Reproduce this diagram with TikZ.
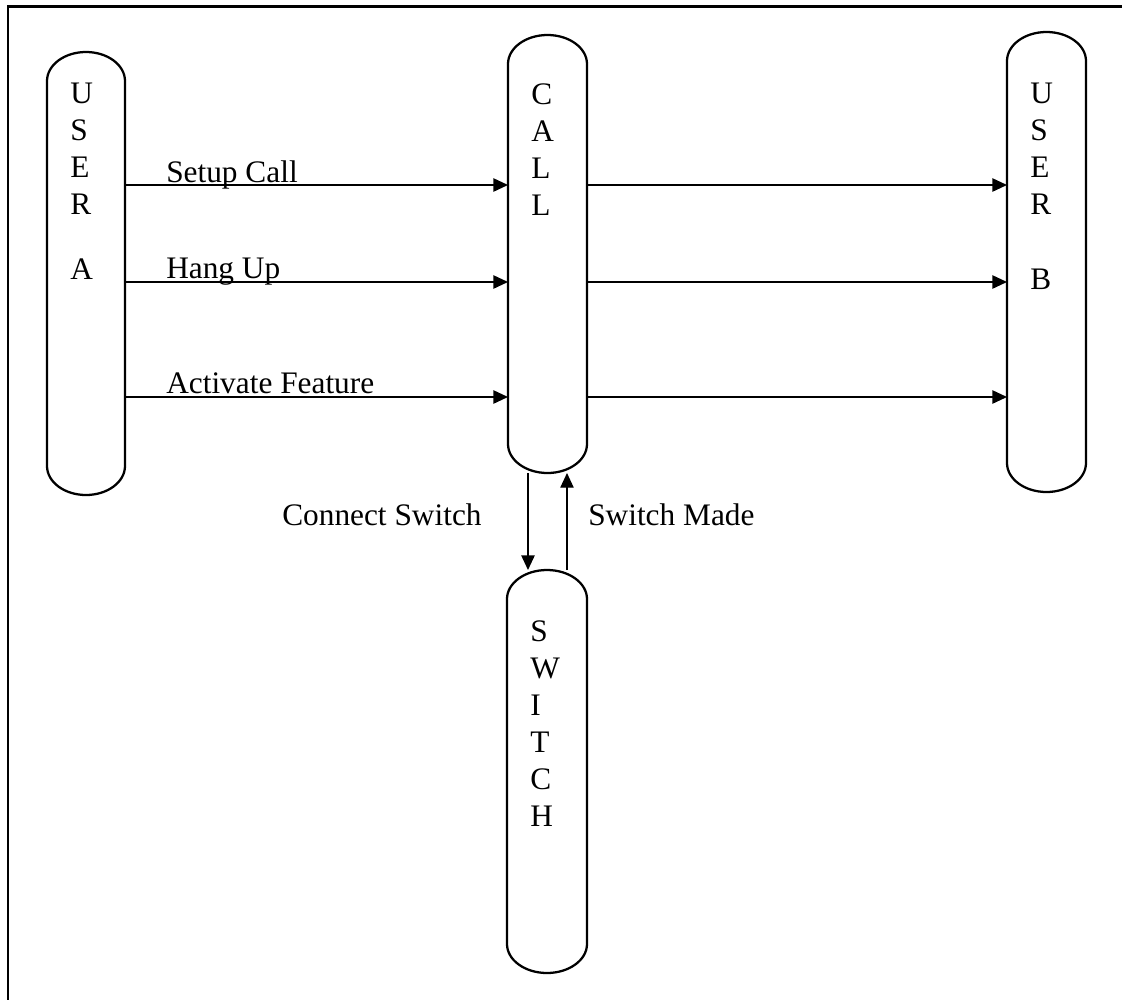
\documentclass[tikz,border=0pt]{standalone}
\usepackage{fontspec}
\setmainfont{Liberation Serif}
\usetikzlibrary{arrows.meta}
\begin{document}
\begin{tikzpicture}[x=0.75pt,y=-0.75pt,
  pill/.style={rectangle, draw=none, inner sep=0pt, outer sep=0pt},
  outl/.style={line width=1.7pt},
  lbl/.style={font=\fontsize{23.5}{27.75}\selectfont, inner sep=0pt},
  vtext/.style={lbl, align=left, anchor=north west},
  arr/.style={line width=1.2pt, -{Triangle[length=11pt,width=10pt]}},
  arrthin/.style={line width=0.9pt, -{Triangle[length=11pt,width=10pt]}},
]
\useasboundingbox (0,0) rectangle (1122,1000);
% frame (top and left edges visible)
\draw[line width=1.8pt] (8,1002) -- (8,6.5) -- (1124,6.5);

% lifelines
\node[pill, minimum width=58.5pt, minimum height=332.25pt] (ua) at (86,273.5) {};
\node[pill, minimum width=59.25pt, minimum height=328.5pt] (call) at (547.5,254) {};
\node[pill, minimum width=59.25pt, minimum height=345pt] (ub) at (1046.5,262) {};
\node[pill, minimum width=60pt, minimum height=302.25pt] (sw) at (547,771.5) {};

\foreach \n/\r in {ua/29.25pt, call/29.625pt, ub/29.625pt, sw/30pt}{
  \draw[outl] ([yshift=-21.75pt]\n.north west) -- ([yshift=21.75pt]\n.south west)
    arc[start angle=180, end angle=360, x radius=\r, y radius=21.75pt]
    -- ([yshift=-21.75pt]\n.north east)
    arc[start angle=0, end angle=180, x radius=\r, y radius=21.75pt] -- cycle;
}

% vertical texts
\node[vtext] (uat) at (70,83) {U\\S\\E\\R\\[21pt]A};
\node[vtext] (callt) at (531,83) {C\\A\\L\\L};
\node[vtext] (ubt) at (1030,83) {U\\S\\E\\R\\[28.5pt]B};
\node[vtext] (swt) at (530,620) {S\\W\\I\\T\\C\\H};

% levels
\coordinate (h1) at (0,185);
\coordinate (h2) at (0,282);
\coordinate (h3) at (0,397);
\coordinate (v1) at (528,0);
\coordinate (v2) at (567,0);

% horizontal messages
\foreach \h in {h1,h2,h3}{
  \draw[arr] (ua.east |- \h) -- (call.west |- \h);
  \draw[arr] (call.east |- \h) -- (ub.west |- \h);
}

% vertical messages
\draw[arr] (call.south -| v1) -- (sw.north -| v1);
\draw[arrthin] (sw.north -| v2) -- (call.south -| v2);

% labels
\node[lbl, anchor=base west] (l1) at (166,182) {Setup Call};
\node[lbl, anchor=base west] (l2) at (166,278) {Hang Up};
\node[lbl, anchor=base west] (l3) at (166,393) {Activate Feature};
\node[lbl, anchor=base west] (l4) at (282,525) {Connect Switch};
\node[lbl, anchor=base west] (l5) at (588,525) {Switch Made};
\end{tikzpicture}
\end{document}
